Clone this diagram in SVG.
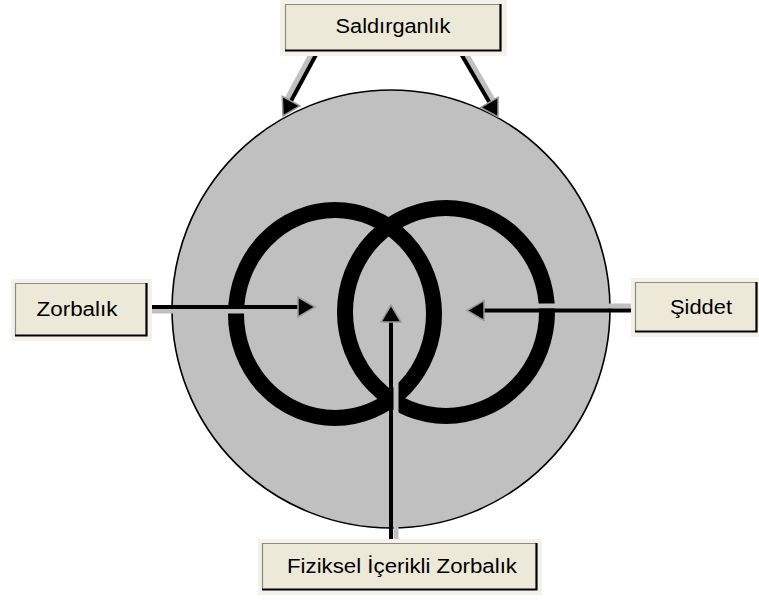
<svg xmlns="http://www.w3.org/2000/svg" xmlns:xlink="http://www.w3.org/1999/xlink" width="759" height="600" viewBox="0 0 759 600">
<defs>
<style>
.halo{fill:#F3F1E8}
.box{fill:#ECE9D8}
.lt{fill:none;stroke:#8A8A8A;stroke-width:1.2}
.dk{fill:none;stroke:#000;stroke-width:2.2}
.lbl{font-family:"Liberation Sans",Arial,sans-serif;font-size:20px;fill:#000;text-anchor:middle}
.ln{stroke:#000;stroke-width:4;fill:none}
.sh{stroke:#C0C0C0;stroke-width:5;fill:none}
.ring{fill:none;stroke:#000;stroke-width:16}
.ah{fill:#000;stroke:#9A9A9A;stroke-width:1.5;stroke-linejoin:miter}
</style>
<path id="head" d="M0,0 L-17,-10 L-17,10 Z"/>
</defs>
<rect width="759" height="600" fill="#fff"/>
<g id="venn">
<circle cx="391" cy="309" r="219" fill="#C0C0C0" stroke="#000" stroke-width="1.6"/>
<ellipse class="ring" cx="335" cy="314" rx="99" ry="104"/>
<ellipse class="ring" cx="446" cy="312" rx="101" ry="104"/>
</g>
<g id="connectors">
<line class="sh" x1="314" y1="49" x2="287" y2="99"/>
<line class="ln" x1="318" y1="51" x2="291" y2="101"/>
<use href="#head" class="ah" transform="translate(283,116) rotate(118.3)"/>
<line class="sh" x1="464" y1="50" x2="493" y2="100"/>
<line class="ln" x1="460" y1="52" x2="489.4" y2="102.3"/>
<use href="#head" class="ah" transform="translate(498,117) rotate(59.7)"/>
<line class="sh" x1="149" y1="311" x2="298" y2="311"/>
<line class="ln" x1="149" y1="307" x2="298" y2="307"/>
<use href="#head" class="ah" transform="translate(315,307)"/>
<line class="sh" x1="484" y1="306" x2="635" y2="306"/>
<line class="ln" x1="484" y1="310.5" x2="635" y2="310.5"/>
<use href="#head" class="ah" transform="translate(467,310.5) rotate(180)"/>
<line class="sh" x1="396" y1="322" x2="396" y2="542"/>
<line class="ln" x1="391" y1="322" x2="391" y2="542"/>
<use href="#head" class="ah" transform="translate(391,305) rotate(-90)"/>
</g>
<g id="saldirganlik">
<rect class="halo" x="280" y="0" width="227" height="56"/>
<rect class="box" x="285" y="4" width="216" height="47"/>
<polyline class="lt" points="285.5,51 285.5,4.5 501,4.5"/>
<polyline class="dk" points="285,50.5 500.5,50.5 500.5,4"/>
<text class="lbl" x="393" y="33" textLength="115" lengthAdjust="spacingAndGlyphs">Saldırganlık</text>
</g>
<g id="zorbalik">
<rect class="halo" x="11" y="279" width="141" height="62"/>
<rect class="box" x="15" y="283" width="132" height="53"/>
<polyline class="lt" points="15.5,336 15.5,283.5 147,283.5"/>
<polyline class="dk" points="15,335.5 146.5,335.5 146.5,283"/>
<text class="lbl" x="77" y="316" textLength="81" lengthAdjust="spacingAndGlyphs">Zorbalık</text>
</g>
<g id="siddet">
<rect class="halo" x="631" y="278" width="128" height="59"/>
<rect class="box" x="635" y="282" width="122" height="50"/>
<polyline class="lt" points="635.5,332 635.5,282.5 757,282.5"/>
<polyline class="dk" points="635,331.5 756.5,331.5 756.5,282"/>
<text class="lbl" x="701" y="314" textLength="62" lengthAdjust="spacingAndGlyphs">Şiddet</text>
</g>
<g id="fiziksel">
<rect class="halo" x="258" y="539" width="284" height="56"/>
<rect class="box" x="262" y="543" width="275" height="47"/>
<polyline class="lt" points="262.5,590 262.5,543.5 537,543.5"/>
<polyline class="dk" points="262,589.5 536.5,589.5 536.5,543"/>
<text class="lbl" x="402" y="573" textLength="230" lengthAdjust="spacingAndGlyphs">Fiziksel İçerikli Zorbalık</text>
</g>
</svg>
